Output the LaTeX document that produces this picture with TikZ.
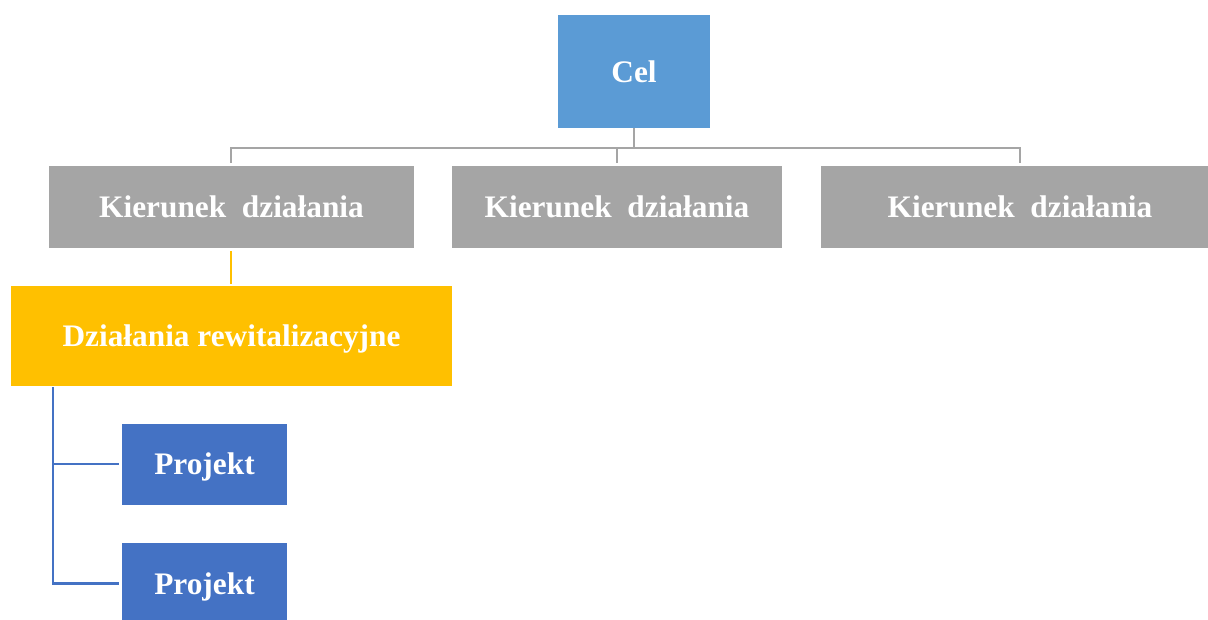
\documentclass[tikz,border=0pt]{standalone}
\usepackage{fontspec}
\setmainfont{Liberation Serif}
\definecolor{celblue}{HTML}{5B9BD5}
\definecolor{kgray}{HTML}{A5A5A5}
\definecolor{dzorange}{HTML}{FFC000}
\definecolor{pblue}{HTML}{4472C4}
\begin{document}
\begin{tikzpicture}[x=0.75pt,y=-0.75pt,
  boxbase/.style={inner sep=0pt, text depth=0pt, text=white, font=\fontsize{23.5}{28}\selectfont\bfseries},
  celbox/.style={boxbase, fill=celblue, minimum width=152*0.75pt, minimum height=113*0.75pt},
  kbox/.style={boxbase, fill=kgray, minimum height=82*0.75pt},
  dzbox/.style={boxbase, fill=dzorange, minimum width=441*0.75pt, minimum height=100*0.75pt},
  pbox/.style={boxbase, fill=pblue, minimum width=165*0.75pt, minimum height=81*0.75pt},
  grayline/.style={draw=kgray, line width=2.2*0.75pt},
  orangeline/.style={draw=dzorange, line width=2.2*0.75pt},
  blueline/.style={draw=pblue, line width=2.6*0.75pt}]
\useasboundingbox (0,0) rectangle (1208,619);
\node[celbox] (cel) at (634,71.5) {Cel};
\node[kbox, minimum width=365*0.75pt] (k1) at (231.5,207) {Kierunek\ \ działania};
\node[kbox, minimum width=330*0.75pt] (k2) at (617,207) {Kierunek\ \ działania};
\node[kbox, minimum width=398*0.75pt] (k3) at (1020,207) {Kierunek\ \ działania};
\node[dzbox] (dz) at (231.5,336) {Działania rewitalizacyjne};
\node[pbox] (p1) at (204.5,464) {Projekt};
\node[pbox] (p2) at (204.5,583.5) {Projekt};
\coordinate (bus) at (634,148);
\coordinate (k1top) at (231,163);
\coordinate (k2top) at (617,163);
\coordinate (k3top) at (1020,163);
\coordinate (p1end) at (119,464);
\coordinate (p2end) at (119,583.5);
\draw[grayline] (cel.south) -- (bus);
\draw[grayline] (k1top) |- (bus) -| (k3top);
\draw[grayline] (k2top) -- (k2top |- bus);
\draw[orangeline] (231,251) -- (231,284);
\coordinate (stem) at (53,387);
\draw[blueline] (stem) |- (p1end);
\draw[blueline] (stem) |- (p2end);
\end{tikzpicture}
\end{document}
